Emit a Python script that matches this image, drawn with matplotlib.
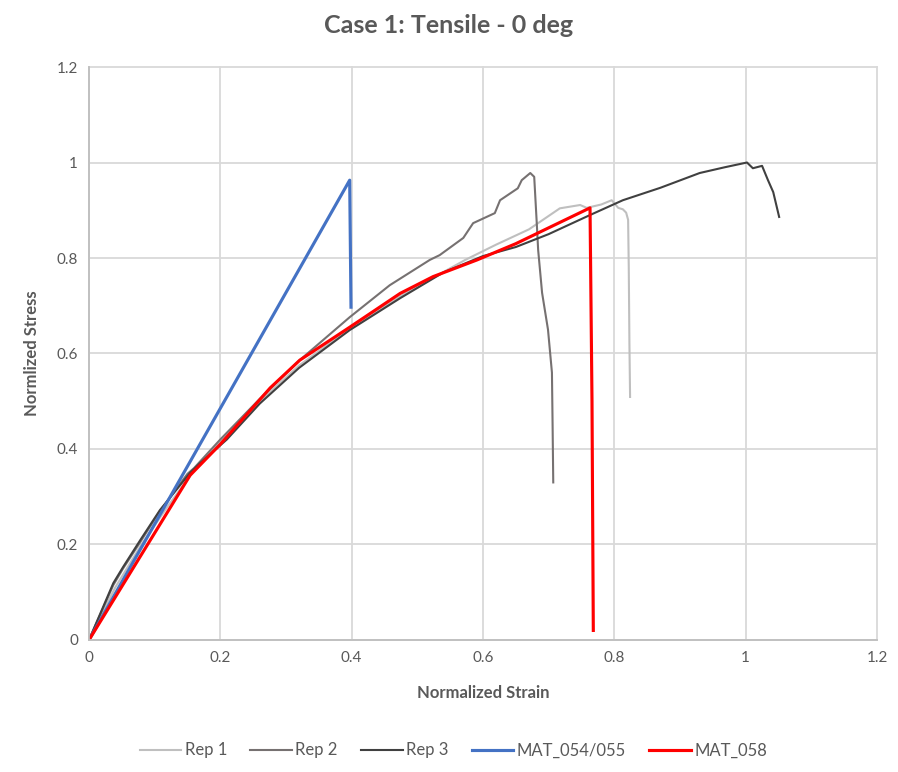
import matplotlib.pyplot as plt

plt.rcParams['font.family'] = ['Lato', 'DejaVu Sans']

# data
rep1_x = [0, 0.04, 0.08, 0.12, 0.16, 0.2, 0.26, 0.32, 0.4, 0.48, 0.573, 0.62, 0.67, 0.717, 0.748, 0.758, 0.78, 0.796, 0.806, 0.813, 0.818, 0.821, 0.822, 0.823, 0.824]
rep1_y = [0, 0.11, 0.2, 0.28, 0.355, 0.415, 0.5, 0.575, 0.655, 0.725, 0.796, 0.828, 0.86, 0.904, 0.911, 0.905, 0.912, 0.921, 0.905, 0.902, 0.895, 0.88, 0.78, 0.62, 0.509]

rep2_x = [0, 0.037, 0.052, 0.078, 0.108, 0.15, 0.16, 0.2, 0.26, 0.32, 0.397, 0.458, 0.519, 0.534, 0.57, 0.585, 0.618, 0.626, 0.653, 0.659, 0.672, 0.678, 0.682, 0.684, 0.69, 0.699, 0.705, 0.706, 0.707]
rep2_y = [0, 0.115, 0.15, 0.205, 0.27, 0.348, 0.36, 0.42, 0.505, 0.585, 0.676, 0.743, 0.796, 0.806, 0.842, 0.873, 0.894, 0.921, 0.946, 0.963, 0.978, 0.97, 0.87, 0.817, 0.727, 0.65, 0.56, 0.45, 0.33]

rep3_x = [0, 0.037, 0.052, 0.078, 0.108, 0.154, 0.169, 0.21, 0.26, 0.32, 0.397, 0.474, 0.54, 0.6, 0.65, 0.7, 0.763, 0.813, 0.87, 0.93, 0.968, 1.002, 1.011, 1.025, 1.034, 1.042, 1.051]
rep3_y = [0, 0.119, 0.153, 0.209, 0.272, 0.35, 0.37, 0.42, 0.495, 0.57, 0.649, 0.716, 0.77, 0.804, 0.823, 0.85, 0.89, 0.921, 0.947, 0.978, 0.99, 1.0, 0.988, 0.993, 0.963, 0.938, 0.886]

mat054_x = [0, 0.397, 0.399]
mat054_y = [0, 0.963, 0.697]

mat058_x = [0, 0.154, 0.2, 0.276, 0.321, 0.397, 0.474, 0.524, 0.591, 0.65, 0.763, 0.766, 0.768]
mat058_y = [0, 0.345, 0.41, 0.528, 0.586, 0.655, 0.726, 0.761, 0.796, 0.83, 0.905, 0.5, 0.02]

fig = plt.figure(figsize=(8.98, 7.72), dpi=100)
ax = fig.add_axes([0.0991, 0.171, 0.8775, 0.7422])

ax.plot(rep1_x, rep1_y, c='#bfbfbf', lw=1.5, label='Rep 1')
ax.plot(rep2_x, rep2_y, c='#767171', lw=1.5, label='Rep 2')
ax.plot(rep3_x, rep3_y, c='#404040', lw=1.5, label='Rep 3')
ax.plot(mat054_x, mat054_y, c='#4472c4', lw=2.25, label='MAT_054/055')
ax.plot(mat058_x, mat058_y, c='#ff0000', lw=2.25, label='MAT_058')

ax.set_xlim(0, 1.2)
ax.set_ylim(0, 1.2)
ticks = [0, 0.2, 0.4, 0.6, 0.8, 1, 1.2]
labels = ['0', '0.2', '0.4', '0.6', '0.8', '1', '1.2']
ax.set_xticks(ticks, labels)
ax.set_yticks(ticks, labels)
ax.tick_params(length=0, labelsize=11, labelcolor='#595959', pad=8)
ax.grid(True, c='#d9d9d9', lw=1.3, clip_on=False)
ax.set_axisbelow(True)
for s in ['top', 'right']:
    ax.spines[s].set_visible(False)
for s in ['left', 'bottom']:
    ax.spines[s].set_color('#bfbfbf')
    ax.spines[s].set_linewidth(1.3)

ax.set_xlabel('Normalized Strain', size=12, weight='bold', color='#595959', labelpad=14)
ax.set_ylabel('Normlized Stress', size=12, weight='bold', color='#595959', labelpad=12)
fig.suptitle('Case 1: Tensile - 0 deg', y=0.982, size=18, weight='bold', color='#595959')

fig.legend(loc='center', bbox_to_anchor=(0.505, 0.028), ncol=5, frameon=False,
           fontsize=12, labelcolor='#595959', handlelength=2.5, columnspacing=1.4,
           handletextpad=0.2)

fig.savefig('out.png', dpi=100)
